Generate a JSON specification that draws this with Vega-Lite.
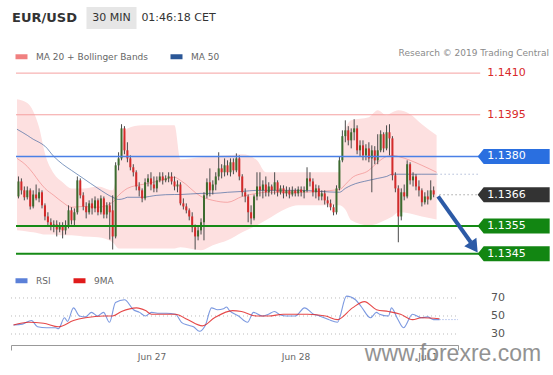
{
"$schema": "https://vega.github.io/schema/vega-lite/v6.json",
"background": "white",
"padding": {"left": 10, "top": 7, "right": 0, "bottom": 4},
"config": {"font": "DejaVu Sans", "view": {"stroke": null}},
"datasets": {
"candles": [
{"i":0,"o":1.13656,"h":1.13728,"l":1.13649,"c":1.1371},
{"i":1,"o":1.1371,"h":1.13721,"l":1.13663,"c":1.13678},
{"i":2,"o":1.13678,"h":1.13692,"l":1.13642,"c":1.13653},
{"i":3,"o":1.13653,"h":1.13692,"l":1.13645,"c":1.13678},
{"i":4,"o":1.13678,"h":1.13685,"l":1.13609,"c":1.1362},
{"i":5,"o":1.1362,"h":1.13678,"l":1.13613,"c":1.13663},
{"i":6,"o":1.13663,"h":1.13699,"l":1.13642,"c":1.13649},
{"i":7,"o":1.13649,"h":1.13685,"l":1.13635,"c":1.13671},
{"i":8,"o":1.13671,"h":1.13678,"l":1.13613,"c":1.13624},
{"i":9,"o":1.13624,"h":1.13631,"l":1.1357,"c":1.13584},
{"i":10,"o":1.13584,"h":1.13599,"l":1.13548,"c":1.13563},
{"i":11,"o":1.13563,"h":1.13577,"l":1.13534,"c":1.13548},
{"i":12,"o":1.13548,"h":1.1357,"l":1.13527,"c":1.13555},
{"i":13,"o":1.13555,"h":1.1357,"l":1.13512,"c":1.13537},
{"i":14,"o":1.13537,"h":1.13563,"l":1.13527,"c":1.13548},
{"i":15,"o":1.13548,"h":1.13563,"l":1.13505,"c":1.13534},
{"i":16,"o":1.13534,"h":1.1357,"l":1.13519,"c":1.13552},
{"i":17,"o":1.13552,"h":1.13624,"l":1.13541,"c":1.13606},
{"i":18,"o":1.13606,"h":1.13617,"l":1.13555,"c":1.1357},
{"i":19,"o":1.1357,"h":1.13613,"l":1.13552,"c":1.13599},
{"i":20,"o":1.13599,"h":1.13728,"l":1.13591,"c":1.13714},
{"i":21,"o":1.13714,"h":1.13721,"l":1.13649,"c":1.1366},
{"i":22,"o":1.1366,"h":1.13671,"l":1.13606,"c":1.1362},
{"i":23,"o":1.1362,"h":1.13635,"l":1.13577,"c":1.13599},
{"i":24,"o":1.13599,"h":1.13642,"l":1.13591,"c":1.13631},
{"i":25,"o":1.13631,"h":1.13649,"l":1.13591,"c":1.13613},
{"i":26,"o":1.13613,"h":1.13656,"l":1.13599,"c":1.13642},
{"i":27,"o":1.13642,"h":1.13649,"l":1.13588,"c":1.13599},
{"i":28,"o":1.13599,"h":1.1366,"l":1.13591,"c":1.13649},
{"i":29,"o":1.13649,"h":1.13656,"l":1.13577,"c":1.13591},
{"i":30,"o":1.13591,"h":1.13635,"l":1.13577,"c":1.13624},
{"i":31,"o":1.13624,"h":1.13635,"l":1.13501,"c":1.13599},
{"i":32,"o":1.13606,"h":1.1366,"l":1.13465,"c":1.13512},
{"i":33,"o":1.13512,"h":1.13779,"l":1.13505,"c":1.13768},
{"i":34,"o":1.13768,"h":1.13815,"l":1.1375,"c":1.13793},
{"i":35,"o":1.13793,"h":1.13916,"l":1.13786,"c":1.13901},
{"i":36,"o":1.13901,"h":1.13909,"l":1.13808,"c":1.13822},
{"i":37,"o":1.13822,"h":1.13851,"l":1.13779,"c":1.13793},
{"i":38,"o":1.13793,"h":1.13804,"l":1.1375,"c":1.13761},
{"i":39,"o":1.13761,"h":1.13772,"l":1.13728,"c":1.13743},
{"i":40,"o":1.13743,"h":1.1375,"l":1.13678,"c":1.13692},
{"i":41,"o":1.13692,"h":1.13707,"l":1.13656,"c":1.13678},
{"i":42,"o":1.13678,"h":1.13685,"l":1.13635,"c":1.13649},
{"i":43,"o":1.13649,"h":1.13721,"l":1.13642,"c":1.13707},
{"i":44,"o":1.13707,"h":1.13736,"l":1.13692,"c":1.13721},
{"i":45,"o":1.13721,"h":1.13743,"l":1.13678,"c":1.13699},
{"i":46,"o":1.13699,"h":1.13728,"l":1.13671,"c":1.13685},
{"i":47,"o":1.13685,"h":1.13728,"l":1.13671,"c":1.13714},
{"i":48,"o":1.13714,"h":1.13743,"l":1.13707,"c":1.13728},
{"i":49,"o":1.13728,"h":1.13743,"l":1.13699,"c":1.13714},
{"i":50,"o":1.13714,"h":1.13732,"l":1.13707,"c":1.13721},
{"i":51,"o":1.13721,"h":1.13743,"l":1.13707,"c":1.13728},
{"i":52,"o":1.13728,"h":1.13743,"l":1.13699,"c":1.1371},
{"i":53,"o":1.1371,"h":1.13728,"l":1.13678,"c":1.13692},
{"i":54,"o":1.13692,"h":1.13714,"l":1.13671,"c":1.13699},
{"i":55,"o":1.13699,"h":1.13707,"l":1.13624,"c":1.13631},
{"i":56,"o":1.13631,"h":1.13649,"l":1.13609,"c":1.1362},
{"i":57,"o":1.1362,"h":1.13631,"l":1.13595,"c":1.13606},
{"i":58,"o":1.13606,"h":1.13613,"l":1.1357,"c":1.13584},
{"i":59,"o":1.13584,"h":1.13599,"l":1.13527,"c":1.13545},
{"i":60,"o":1.13545,"h":1.13555,"l":1.13465,"c":1.13512},
{"i":61,"o":1.13512,"h":1.13552,"l":1.13498,"c":1.13534},
{"i":62,"o":1.13534,"h":1.13577,"l":1.13519,"c":1.13563},
{"i":63,"o":1.13563,"h":1.13671,"l":1.13498,"c":1.1366},
{"i":64,"o":1.1366,"h":1.13721,"l":1.13649,"c":1.13707},
{"i":65,"o":1.13707,"h":1.13757,"l":1.13656,"c":1.13678},
{"i":66,"o":1.13678,"h":1.13714,"l":1.13663,"c":1.13699},
{"i":67,"o":1.13699,"h":1.13743,"l":1.13678,"c":1.13728},
{"i":68,"o":1.13728,"h":1.13815,"l":1.13714,"c":1.13757},
{"i":69,"o":1.13757,"h":1.13772,"l":1.13721,"c":1.13743},
{"i":70,"o":1.13743,"h":1.13793,"l":1.13728,"c":1.13768},
{"i":71,"o":1.13768,"h":1.13786,"l":1.13732,"c":1.13743},
{"i":72,"o":1.13743,"h":1.13793,"l":1.13728,"c":1.13779},
{"i":73,"o":1.13779,"h":1.13793,"l":1.13736,"c":1.1375},
{"i":74,"o":1.1375,"h":1.13811,"l":1.13743,"c":1.13793},
{"i":75,"o":1.13793,"h":1.13804,"l":1.13714,"c":1.13728},
{"i":76,"o":1.13728,"h":1.13736,"l":1.13656,"c":1.13671},
{"i":77,"o":1.13671,"h":1.13685,"l":1.13635,"c":1.13656},
{"i":78,"o":1.13656,"h":1.13663,"l":1.13563,"c":1.13599},
{"i":79,"o":1.13599,"h":1.13624,"l":1.13555,"c":1.13577},
{"i":80,"o":1.13577,"h":1.13663,"l":1.1357,"c":1.13656},
{"i":81,"o":1.13656,"h":1.13743,"l":1.13642,"c":1.13692},
{"i":82,"o":1.13692,"h":1.13743,"l":1.13656,"c":1.13678},
{"i":83,"o":1.13678,"h":1.13714,"l":1.13649,"c":1.13699},
{"i":84,"o":1.13699,"h":1.13728,"l":1.13656,"c":1.13671},
{"i":85,"o":1.13671,"h":1.13707,"l":1.13656,"c":1.13692},
{"i":86,"o":1.13692,"h":1.13699,"l":1.13663,"c":1.13678},
{"i":87,"o":1.13678,"h":1.13743,"l":1.13663,"c":1.13707},
{"i":88,"o":1.13707,"h":1.13714,"l":1.13656,"c":1.13671},
{"i":89,"o":1.13671,"h":1.13696,"l":1.13663,"c":1.13685},
{"i":90,"o":1.13685,"h":1.13696,"l":1.13649,"c":1.13667},
{"i":91,"o":1.13667,"h":1.13692,"l":1.13656,"c":1.13678},
{"i":92,"o":1.13678,"h":1.13689,"l":1.13649,"c":1.13663},
{"i":93,"o":1.13663,"h":1.13692,"l":1.13656,"c":1.13678},
{"i":94,"o":1.13678,"h":1.13685,"l":1.13656,"c":1.13667},
{"i":95,"o":1.13667,"h":1.13692,"l":1.13656,"c":1.13681},
{"i":96,"o":1.13681,"h":1.13692,"l":1.13656,"c":1.13671},
{"i":97,"o":1.13671,"h":1.13692,"l":1.13649,"c":1.13678},
{"i":98,"o":1.13678,"h":1.13761,"l":1.13671,"c":1.13721},
{"i":99,"o":1.13721,"h":1.13743,"l":1.13692,"c":1.1371},
{"i":100,"o":1.1371,"h":1.13721,"l":1.13656,"c":1.13671},
{"i":101,"o":1.13671,"h":1.13699,"l":1.13649,"c":1.13685},
{"i":102,"o":1.13685,"h":1.13696,"l":1.13642,"c":1.13656},
{"i":103,"o":1.13656,"h":1.13678,"l":1.13642,"c":1.13667},
{"i":104,"o":1.13667,"h":1.13678,"l":1.13627,"c":1.13642},
{"i":105,"o":1.13642,"h":1.13656,"l":1.13617,"c":1.13631},
{"i":106,"o":1.13631,"h":1.13645,"l":1.13606,"c":1.13617},
{"i":107,"o":1.13617,"h":1.13627,"l":1.13588,"c":1.13599},
{"i":108,"o":1.13599,"h":1.13696,"l":1.13591,"c":1.13685},
{"i":109,"o":1.13685,"h":1.138,"l":1.13678,"c":1.13786},
{"i":110,"o":1.13786,"h":1.13894,"l":1.13779,"c":1.13873},
{"i":111,"o":1.13873,"h":1.1393,"l":1.13851,"c":1.13894},
{"i":112,"o":1.13894,"h":1.13909,"l":1.1384,"c":1.13858},
{"i":113,"o":1.13858,"h":1.13901,"l":1.13829,"c":1.13887},
{"i":114,"o":1.13887,"h":1.13934,"l":1.13858,"c":1.13901},
{"i":115,"o":1.13901,"h":1.13912,"l":1.13808,"c":1.13822},
{"i":116,"o":1.13822,"h":1.13858,"l":1.138,"c":1.1384},
{"i":117,"o":1.1384,"h":1.13858,"l":1.13786,"c":1.13804},
{"i":118,"o":1.13804,"h":1.13844,"l":1.13786,"c":1.13829},
{"i":119,"o":1.13829,"h":1.13851,"l":1.13779,"c":1.13793},
{"i":120,"o":1.13793,"h":1.1384,"l":1.13671,"c":1.13822},
{"i":121,"o":1.13822,"h":1.13837,"l":1.13772,"c":1.13786},
{"i":122,"o":1.13786,"h":1.1388,"l":1.13772,"c":1.13822},
{"i":123,"o":1.13822,"h":1.13894,"l":1.13815,"c":1.1388},
{"i":124,"o":1.1388,"h":1.13887,"l":1.13815,"c":1.13829},
{"i":125,"o":1.13829,"h":1.13912,"l":1.13822,"c":1.13887},
{"i":126,"o":1.13887,"h":1.13916,"l":1.13804,"c":1.13865},
{"i":127,"o":1.13865,"h":1.13873,"l":1.13714,"c":1.13732},
{"i":128,"o":1.13732,"h":1.13743,"l":1.13671,"c":1.13685},
{"i":129,"o":1.13685,"h":1.13696,"l":1.13491,"c":1.13584},
{"i":130,"o":1.13584,"h":1.13685,"l":1.1357,"c":1.13671},
{"i":131,"o":1.13671,"h":1.13699,"l":1.13642,"c":1.13656},
{"i":132,"o":1.13656,"h":1.13786,"l":1.13649,"c":1.13772},
{"i":133,"o":1.13772,"h":1.13779,"l":1.13699,"c":1.13714},
{"i":134,"o":1.13714,"h":1.13743,"l":1.13692,"c":1.13728},
{"i":135,"o":1.13728,"h":1.13736,"l":1.13678,"c":1.13692},
{"i":136,"o":1.13692,"h":1.13714,"l":1.13656,"c":1.13678},
{"i":137,"o":1.13678,"h":1.13685,"l":1.1362,"c":1.13635},
{"i":138,"o":1.13635,"h":1.13671,"l":1.13627,"c":1.13656},
{"i":139,"o":1.13656,"h":1.13678,"l":1.13627,"c":1.13645},
{"i":140,"o":1.13645,"h":1.13714,"l":1.13642,"c":1.13678},
{"i":141,"o":1.13678,"h":1.13692,"l":1.13653,"c":1.13663}
],
"overlay": [
{"i":-0.5,"ub":1.14006,"lb":1.13534,"ma20":1.13793,"ma50":1.13898},
{"i":3,"ub":1.13992,"lb":1.1353,"ma20":1.13764,"ma50":1.13876},
{"i":5,"ub":1.13963,"lb":1.13527,"ma20":1.13739,"ma50":1.13862},
{"i":7,"ub":1.13905,"lb":1.13523,"ma20":1.1371,"ma50":1.13851},
{"i":9,"ub":1.13811,"lb":1.13519,"ma20":1.13685,"ma50":1.13837},
{"i":12,"ub":1.13739,"lb":1.13519,"ma20":1.1366,"ma50":1.138},
{"i":15,"ub":1.13707,"lb":1.13516,"ma20":1.13635,"ma50":1.13772},
{"i":18,"ub":1.13685,"lb":1.13516,"ma20":1.13617,"ma50":1.1375},
{"i":22,"ub":1.13685,"lb":1.13512,"ma20":1.1362,"ma50":1.13721},
{"i":27,"ub":1.13692,"lb":1.13509,"ma20":1.13617,"ma50":1.13685},
{"i":32,"ub":1.13678,"lb":1.13491,"ma20":1.13635,"ma50":1.13653},
{"i":34,"ub":1.13779,"lb":1.13469,"ma20":1.1366,"ma50":1.13645},
{"i":36,"ub":1.13883,"lb":1.13469,"ma20":1.13678,"ma50":1.13649},
{"i":37,"ub":1.13901,"lb":1.13469,"ma20":1.13685,"ma50":1.13653},
{"i":42,"ub":1.13912,"lb":1.13469,"ma20":1.13699,"ma50":1.13653},
{"i":47,"ub":1.13912,"lb":1.13469,"ma20":1.1371,"ma50":1.1366},
{"i":53,"ub":1.13912,"lb":1.13469,"ma20":1.13725,"ma50":1.13663},
{"i":55,"ub":1.1379,"lb":1.13473,"ma20":1.13714,"ma50":1.13663},
{"i":62,"ub":1.13797,"lb":1.13462,"ma20":1.13656,"ma50":1.13667},
{"i":66,"ub":1.138,"lb":1.1348,"ma20":1.13642,"ma50":1.13667},
{"i":71,"ub":1.13804,"lb":1.13498,"ma20":1.13635,"ma50":1.13671},
{"i":76,"ub":1.13808,"lb":1.13527,"ma20":1.13656,"ma50":1.13674},
{"i":81,"ub":1.13786,"lb":1.13552,"ma20":1.13667,"ma50":1.13678},
{"i":84,"ub":1.13743,"lb":1.1357,"ma20":1.13671,"ma50":1.13678},
{"i":91,"ub":1.13743,"lb":1.13613,"ma20":1.13671,"ma50":1.13678},
{"i":95,"ub":1.13743,"lb":1.13624,"ma20":1.13671,"ma50":1.13678},
{"i":109,"ub":1.13743,"lb":1.13624,"ma20":1.13681,"ma50":1.13671},
{"i":111,"ub":1.13894,"lb":1.13609,"ma20":1.13699,"ma50":1.13685},
{"i":113,"ub":1.1393,"lb":1.1357,"ma20":1.13721,"ma50":1.13696},
{"i":119,"ub":1.13941,"lb":1.13552,"ma20":1.1375,"ma50":1.13714},
{"i":122,"ub":1.13966,"lb":1.13559,"ma20":1.13779,"ma50":1.13721},
{"i":125,"ub":1.13948,"lb":1.13573,"ma20":1.138,"ma50":1.13728},
{"i":127,"ub":1.13959,"lb":1.13584,"ma20":1.13804,"ma50":1.13736},
{"i":129,"ub":1.13966,"lb":1.13599,"ma20":1.138,"ma50":1.13736},
{"i":133,"ub":1.13952,"lb":1.13595,"ma20":1.13786,"ma50":1.13736},
{"i":137,"ub":1.13916,"lb":1.13584,"ma20":1.13768,"ma50":1.13736},
{"i":142,"ub":1.13876,"lb":1.13573,"ma20":1.13743,"ma50":1.13736}
],
"rsi": [
{"s":"RSI","i":0,"v":40},{"s":"RSI","i":3,"v":41},{"s":"RSI","i":6,"v":45},{"s":"RSI","i":8,"v":38},{"s":"RSI","i":11,"v":37},{"s":"RSI","i":14,"v":37},{"s":"RSI","i":15,"v":36},{"s":"RSI","i":17,"v":48},{"s":"RSI","i":18,"v":44},{"s":"RSI","i":20,"v":59},{"s":"RSI","i":22,"v":50},{"s":"RSI","i":24,"v":49},{"s":"RSI","i":26,"v":54},{"s":"RSI","i":28,"v":50},{"s":"RSI","i":30,"v":54},{"s":"RSI","i":32,"v":43},{"s":"RSI","i":34,"v":65},{"s":"RSI","i":37,"v":68},{"s":"RSI","i":40,"v":57},{"s":"RSI","i":42,"v":54},{"s":"RSI","i":44,"v":50},{"s":"RSI","i":46,"v":54},{"s":"RSI","i":48,"v":53},{"s":"RSI","i":51,"v":53},{"s":"RSI","i":54,"v":52},{"s":"RSI","i":56,"v":43},{"s":"RSI","i":58,"v":40},{"s":"RSI","i":60,"v":38},{"s":"RSI","i":62,"v":33},{"s":"RSI","i":64,"v":40},{"s":"RSI","i":66,"v":59},{"s":"RSI","i":68,"v":57},{"s":"RSI","i":70,"v":58},{"s":"RSI","i":71,"v":60},{"s":"RSI","i":72,"v":56},{"s":"RSI","i":75,"v":50},{"s":"RSI","i":78,"v":43},{"s":"RSI","i":80,"v":54},{"s":"RSI","i":83,"v":50},{"s":"RSI","i":85,"v":52},{"s":"RSI","i":87,"v":55},{"s":"RSI","i":89,"v":51},{"s":"RSI","i":91,"v":50},{"s":"RSI","i":94,"v":50},{"s":"RSI","i":97,"v":59},{"s":"RSI","i":100,"v":52},{"s":"RSI","i":102,"v":50},{"s":"RSI","i":105,"v":46},{"s":"RSI","i":108,"v":43},{"s":"RSI","i":111,"v":72},{"s":"RSI","i":114,"v":68},{"s":"RSI","i":116,"v":60},{"s":"RSI","i":119,"v":48},{"s":"RSI","i":121,"v":54},{"s":"RSI","i":122,"v":52},{"s":"RSI","i":125,"v":50},{"s":"RSI","i":126,"v":59},{"s":"RSI","i":128,"v":47},{"s":"RSI","i":130,"v":37},{"s":"RSI","i":133,"v":52},{"s":"RSI","i":136,"v":48},{"s":"RSI","i":138,"v":49},{"s":"RSI","i":140,"v":46},{"s":"RSI","i":142,"v":46},
{"s":"9MA","i":0,"v":40},{"s":"9MA","i":5,"v":43},{"s":"9MA","i":10,"v":42},{"s":"9MA","i":15,"v":38},{"s":"9MA","i":20,"v":45},{"s":"9MA","i":24,"v":48},{"s":"9MA","i":30,"v":50},{"s":"9MA","i":33,"v":50},{"s":"9MA","i":36,"v":55},{"s":"9MA","i":41,"v":59},{"s":"9MA","i":44,"v":56},{"s":"9MA","i":46,"v":52},{"s":"9MA","i":54,"v":52},{"s":"9MA","i":58,"v":46},{"s":"9MA","i":63,"v":39},{"s":"9MA","i":67,"v":48},{"s":"9MA","i":73,"v":56},{"s":"9MA","i":76,"v":55},{"s":"9MA","i":81,"v":50},{"s":"9MA","i":85,"v":50},{"s":"9MA","i":90,"v":52},{"s":"9MA","i":98,"v":52},{"s":"9MA","i":104,"v":50},{"s":"9MA","i":108,"v":46},{"s":"9MA","i":113,"v":59},{"s":"9MA","i":117,"v":66},{"s":"9MA","i":121,"v":57},{"s":"9MA","i":125,"v":55},{"s":"9MA","i":129,"v":52},{"s":"9MA","i":133,"v":46},{"s":"9MA","i":136,"v":48},{"s":"9MA","i":142,"v":47}
]
},
"spacing": 33,
"bounds": "flush",
"resolve": {"scale": {"color": "independent", "x": "independent", "y": "independent"}, "legend": {"color": "independent"}},
"vconcat": [
{
"width": 201, "height": 22,
"data": {"values": [{"t":"EUR/USD"},{"t":"30 MIN"},{"t":"01:46:18 CET"}]},
"encoding": {"x": {"field":"t","type":"nominal","scale":{"domain":["EUR/USD","30 MIN","01:46:18 CET"],"paddingInner":0,"paddingOuter":0},"axis":null}},
"layer": [
{"transform":[{"filter":"datum.t == '30 MIN'"}],"mark":{"type":"rect","color":"#e6e6e6","width":50}},
{"transform":[{"filter":"datum.t == 'EUR/USD'"}],"mark":{"type":"text","fontSize":13,"fontWeight":"bold","color":"#333333"},"encoding":{"text":{"field":"t"}}},
{"transform":[{"filter":"datum.t != 'EUR/USD'"}],"mark":{"type":"text","fontSize":11,"color":"#333333"},"encoding":{"text":{"field":"t"}}}
]
},
{
"spacing": 23,
"bounds": "flush",
"resolve": {"scale": {"color": "independent", "x": "independent", "y": "independent"}, "legend": {"color": "independent"}},
"vconcat": [
{
"width": 543, "height": 200,
"title": {"text": "Research © 2019 Trading Central", "anchor": "end", "fontSize": 9, "fontWeight": "normal", "color": "#8a8a8a", "offset": -10, "dx": -5},
"layer": [
{"data":{"name":"overlay"},"mark":{"type":"area","color":"#fde0e0","interpolate":"monotone"},
 "encoding":{"x":{"field":"i","type":"quantitative","scale":{"domain":[-0.8333,180.1667],"nice":false,"zero":false},"axis":null},
 "y":{"field":"ub","type":"quantitative","scale":{"domain":[1.1342,1.1414],"nice":false,"zero":false},"axis":null},
 "y2":{"field":"lb"}}},
{"data":{"name":"overlay"},"transform":[{"fold":["ma20","ma50"],"as":["k","v"]}],
 "mark":{"type":"line","strokeWidth":1,"opacity":0.6,"interpolate":"monotone"},
 "encoding":{"x":{"field":"i","type":"quantitative"},"y":{"field":"v","type":"quantitative"},
 "color":{"field":"k","type":"nominal","scale":{"domain":["ma20","ma50"],"range":["#f08080","#2b5797"]},
 "legend":{"orient":"none","legendX":2,"legendY":-14,"direction":"horizontal","title":null,"symbolType":"stroke","symbolStrokeWidth":5,"symbolSize":144,"symbolOpacity":1,"labelFontSize":9,"labelColor":"#666666","labelOffset":6,"columnPadding":12,"labelExpr":"datum.label == 'ma20' ? 'MA 20 + Bollinger Bands' : 'MA 50'"}}}},
{"data":{"name":"candles"},"mark":{"type":"rule","color":"#4a4a4a","strokeWidth":1},
 "encoding":{"x":{"field":"i","type":"quantitative"},"y":{"field":"l","type":"quantitative"},"y2":{"field":"h"}}},
{"data":{"name":"candles"},"mark":{"type":"bar","width":2},
 "encoding":{"x":{"field":"i","type":"quantitative"},"y":{"field":"o","type":"quantitative"},"y2":{"field":"c"},
 "color":{"condition":{"test":"datum.c >= datum.o","value":"#3d6b2f"},"value":"#d42a2a"}}},
{"data":{"values":[{"v":1.141},{"v":1.1395}]},"mark":{"type":"rule","color":"#f5a0a0","strokeWidth":1},
 "encoding":{"y":{"field":"v","type":"quantitative"},"x":{"datum":-0.8333},"x2":{"datum":156.8}}},
{"data":{"values":[{"v":1.138}]},"mark":{"type":"rule","color":"#4a80e6","strokeWidth":1.5},
 "encoding":{"y":{"field":"v","type":"quantitative"},"x":{"datum":-0.8333},"x2":{"datum":156.5}}},
{"data":{"values":[{"v":1.1355},{"v":1.1345}]},"mark":{"type":"rule","color":"#168a16","strokeWidth":2},
 "encoding":{"y":{"field":"v","type":"quantitative"},"x":{"datum":-0.8333},"x2":{"datum":156.5}}},
{"data":{"values":[{"v":1.13662}]},"mark":{"type":"rule","color":"#777777","strokeWidth":1,"strokeDash":[1,3]},
 "encoding":{"y":{"field":"v","type":"quantitative"},"x":{"datum":143},"x2":{"datum":156.5}}},
{"data":{"values":[{"v":1.13736}]},"mark":{"type":"rule","color":"#8b9bc4","strokeWidth":1,"strokeDash":[1,3]},
 "encoding":{"y":{"field":"v","type":"quantitative"},"x":{"datum":142},"x2":{"datum":156.5}}},
{"data":{"values":[{"v":1.141},{"v":1.1395}]},"mark":{"type":"text","color":"#d82a2a","fontSize":11,"align":"left","baseline":"middle"},
 "encoding":{"y":{"field":"v","type":"quantitative"},"x":{"datum":159.2},"text":{"field":"v","type":"quantitative","format":".4f"}}},
{"data":{"values":[{"v":1.138}]},"mark":{"type":"point","shape":"M -1 0 L -0.833 -0.208 L 1 -0.208 L 1 0.208 L -0.833 0.208 Z","filled":true,"color":"#2a6fe0","size":5184,"opacity":1,"strokeWidth":0},
 "encoding":{"y":{"field":"v","type":"quantitative"},"x":{"datum":168.17}}},
{"data":{"values":[{"v":1.13662}]},"mark":{"type":"point","shape":"M -1 0 L -0.833 -0.208 L 1 -0.208 L 1 0.208 L -0.833 0.208 Z","filled":true,"color":"#333333","size":5184,"opacity":1,"strokeWidth":0},
 "encoding":{"y":{"field":"v","type":"quantitative"},"x":{"datum":168.17}}},
{"data":{"values":[{"v":1.1355},{"v":1.1345}]},"mark":{"type":"point","shape":"M -1 0 L -0.833 -0.208 L 1 -0.208 L 1 0.208 L -0.833 0.208 Z","filled":true,"color":"#128612","size":5184,"opacity":1,"strokeWidth":0},
 "encoding":{"y":{"field":"v","type":"quantitative"},"x":{"datum":168.17}}},
{"data":{"values":[{"v":1.138},{"v":1.13662},{"v":1.1355},{"v":1.1345}]},"mark":{"type":"text","color":"white","fontSize":11,"align":"left","baseline":"middle"},
 "encoding":{"y":{"field":"v","type":"quantitative"},"x":{"datum":159.2},"text":{"field":"v","type":"quantitative","format":".4f"}}},
{"data":{"values":[{"i":142.5,"p":1.13656},{"i":153.6,"p":1.13491}]},"mark":{"type":"line","color":"#2c5aa6","strokeWidth":4},
 "encoding":{"x":{"field":"i","type":"quantitative"},"y":{"field":"p","type":"quantitative"}}},
{"data":{"values":[{"i":154.7,"p":1.13473}]},"mark":{"type":"point","shape":"triangle-down","angle":325,"size":220,"filled":true,"color":"#2c5aa6","opacity":1},
 "encoding":{"x":{"field":"i","type":"quantitative"},"y":{"field":"p","type":"quantitative"}}}
]
},
{
"width": 447, "height": 60,
"layer": [
{"data":{"values":[{"g":30},{"g":50},{"g":70}]},"mark":{"type":"rule","color":"#bbbbbb","strokeWidth":1,"strokeDash":[1,3]},
 "encoding":{"y":{"field":"g","type":"quantitative","scale":{"domain":[17.8,84.4],"nice":false,"zero":false},"axis":null},
 "x":{"datum":-0.8333,"type":"quantitative","scale":{"domain":[-0.8333,148.1667],"nice":false,"zero":false},
  "axis":{"values":[-0.8333,46,94,138,148.1667],"labelExpr":"datum.value == 46 ? 'Jun 27' : datum.value == 94 ? 'Jun 28' : datum.value == 138 ? 'Jul 1' : ''","title":null,"grid":false,"domainColor":"#999999","tickColor":"#999999","tickSize":5,"tickOpacity":{"condition":{"test":"datum.value < 0 || datum.value > 148","value":1},"value":0},"labelFontSize":9,"labelColor":"#666666","labelOverlap":false,"labelFlush":false}},
 "x2":{"datum":148.1667}}},
{"data":{"values":[{"g":30},{"g":50},{"g":70}]},"mark":{"type":"text","color":"#555555","fontSize":11,"align":"left","baseline":"middle"},
 "encoding":{"y":{"field":"g","type":"quantitative"},"x":{"datum":159.2},"text":{"field":"g","type":"quantitative"}}},
{"data":{"name":"rsi"},"mark":{"type":"line","strokeWidth":1.1,"opacity":0.8,"interpolate":"monotone"},
 "encoding":{
 "x":{"field":"i","type":"quantitative"},
 "y":{"field":"v","type":"quantitative"},
 "color":{"field":"s","type":"nominal","scale":{"domain":["RSI","9MA"],"range":["#5b80d8","#e01b1b"]},
  "legend":{"orient":"none","legendX":2,"legendY":-13,"direction":"horizontal","title":null,"symbolType":"stroke","symbolStrokeWidth":5,"symbolSize":144,"symbolOpacity":1,"labelFontSize":9,"labelColor":"#666666","labelOffset":6,"columnPadding":12}}}},
{"data":{"values":[{"v":46}]},"mark":{"type":"rule","color":"#8aa2e0","strokeWidth":1,"strokeDash":[1,2]},
 "encoding":{"y":{"field":"v","type":"quantitative"},"x":{"datum":142},"x2":{"datum":148.1667}}},
{"data":{"values":[{"w":"www.forexre.com"}]},"mark":{"type":"text","font":"Liberation Sans","fontSize":23,"color":"#808080","opacity":0.85,"align":"center","baseline":"middle"},
 "encoding":{"x":{"datum":146.5},"y":{"datum":7.8},"text":{"field":"w"}}}
]
}
]
}
]
}
